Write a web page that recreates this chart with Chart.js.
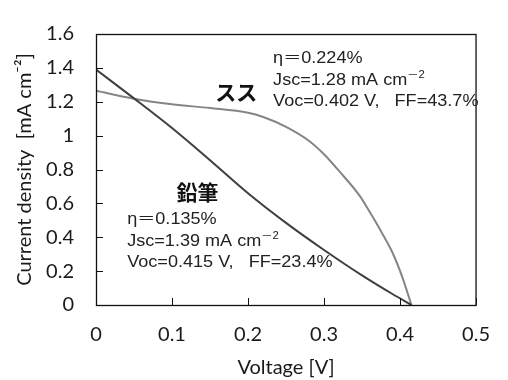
<!DOCTYPE html>
<html><head><meta charset="utf-8">
<script src="https://cdn.jsdelivr.net/npm/chart.js@4/dist/chart.umd.min.js"></script>
<style>html,body{margin:0;padding:0;background:#fff;}canvas{display:block}</style>
</head><body>
<canvas id="c" width="508" height="380"></canvas>
<script>
// ---- data ----
const sootVoltage  = [0, 0.05, 0.1, 0.15, 0.2, 0.22, 0.25, 0.28, 0.3, 0.32, 0.347, 0.36, 0.375, 0.39, 0.403, 0.415];
const sootCurrent  = [1.265, 1.218, 1.185, 1.163, 1.135, 1.11, 1.052, 0.97, 0.89, 0.79, 0.644, 0.55, 0.435, 0.31, 0.165, 0];
const pencilVoltage = [0, 0.05, 0.1, 0.15, 0.2, 0.25, 0.3, 0.35, 0.39, 0.415];
const pencilCurrent = [1.39, 1.22, 1.045, 0.855, 0.66, 0.485, 0.325, 0.175, 0.065, 0];
const xTickValues = [0, 0.1, 0.2, 0.3, 0.4, 0.5];
const xTickLabels = ['0', '0.1', '0.2', '0.3', '0.4', '0.5'];
const yTickValues = [0, 0.2, 0.4, 0.6, 0.8, 1.0, 1.2, 1.4, 1.6];
const yTickLabels = ['0', '0.2', '0.4', '0.6', '0.8', '1', '1.2', '1.4', '1.6'];
const xTitle = 'Voltage [V]';
const yTitle = 'Current density  [mA cm⁻²]';
const sootLabel = 'スス';
const pencilLabel = '鉛筆';
const sootInfo = [['η＝0.224%'], ['Jsc=1.28 mA cm', '－2'], ['Voc=0.402 V,   FF=43.7%']];
const pencilInfo = [['η＝0.135%'], ['Jsc=1.39 mA cm', '－2'], ['Voc=0.415 V,   FF=23.4%']];

// ---- anchors for labels, in data coordinates ----
const labelAnchors = {
  soot:   {v: 0.157, j: 1.26},
  pencil: {v: 0.106, j: 0.67},
  sootInfo:   {v: 0.233, j: 1.426},
  pencilInfo: {v: 0.041, j: 0.476}
};

const toPts = (xs, ys) => xs.map((x, i) => ({x, y: ys[i]}));
const tickFont = {family: 'Lato', size: 20};
const textColor = '#1a1a1a';
const infoFamily = '"Liberation Sans", "Noto Sans CJK JP", Arial, sans-serif';

const overlay = {
  id: 'overlay',
  afterDraw(chart) {
    const {ctx, chartArea: a, scales: {x, y}} = chart;
    ctx.save();
    ctx.strokeStyle = '#111';
    ctx.lineWidth = 1.3;
    ctx.strokeRect(a.left + 0.5, a.top + 0.5, a.right - a.left - 0.5, a.bottom - a.top);
    ctx.beginPath();
    x.ticks.forEach(t => { const px = Math.round(x.getPixelForValue(t.value)) + 0.5; ctx.moveTo(px, a.bottom); ctx.lineTo(px, a.bottom - 7); });
    y.ticks.forEach(t => { const py = Math.round(y.getPixelForValue(t.value)) + 0.5; ctx.moveTo(a.left, py); ctx.lineTo(a.left + 7, py); });
    ctx.lineWidth = 1;
    ctx.stroke();

    // CJK labels
    ctx.fillStyle = '#111';
    ctx.font = 'bold 21px "Noto Sans CJK JP"';
    ctx.textBaseline = 'middle';
    ctx.textAlign = 'left';
    ctx.fillText(sootLabel, x.getPixelForValue(labelAnchors.soot.v), y.getPixelForValue(labelAnchors.soot.j));
    ctx.fillText(pencilLabel, x.getPixelForValue(labelAnchors.pencil.v), y.getPixelForValue(labelAnchors.pencil.j));

    // info blocks
    const drawInfo = (lines, anchor) => {
      const x0 = x.getPixelForValue(anchor.v);
      const y0 = y.getPixelForValue(anchor.j);
      ctx.textBaseline = 'alphabetic';
      ctx.fillStyle = '#222';
      lines.forEach((segs, i) => {
        const by = y0 + i * 21.5;
        ctx.save();
        ctx.translate(x0, by);
        ctx.scale(1.13, 1);
        ctx.font = '16px ' + infoFamily;
        ctx.fillText(segs[0], 0, 0);
        if (segs[1]) {
          const w = ctx.measureText(segs[0]).width;
          ctx.font = '10px ' + infoFamily;
          ctx.fillText(segs[1], w, -7);
        }
        ctx.restore();
      });
    };
    drawInfo(sootInfo, labelAnchors.sootInfo);
    drawInfo(pencilInfo, labelAnchors.pencilInfo);
    ctx.restore();
  }
};

new Chart(document.getElementById('c'), {
  type: 'line',
  data: {
    datasets: [
      {label: pencilLabel, data: toPts(pencilVoltage, pencilCurrent), borderColor: '#3f3f3f', borderWidth: 2, pointRadius: 0, cubicInterpolationMode: 'monotone', fill: false},
      {label: sootLabel, data: toPts(sootVoltage, sootCurrent), borderColor: '#858585', borderWidth: 2, pointRadius: 0, cubicInterpolationMode: 'monotone', fill: false}
    ]
  },
  options: {
    responsive: false,
    animation: false,
    devicePixelRatio: 1,
    layout: {padding: {top: 20, right: 17, left: 0, bottom: 0}},
    plugins: {legend: {display: false}, tooltip: {enabled: false}},
    scales: {
      x: {
        type: 'linear', min: 0, max: 0.5,
        afterBuildTicks: s => { s.ticks = xTickValues.map(v => ({value: v})); },
        afterFit: s => { s.height = 75; },
        grid: {display: false, drawTicks: false},
        border: {display: false},
        ticks: {padding: 18, font: tickFont, color: textColor, maxRotation: 0, autoSkip: false,
                callback: (v, i) => xTickLabels[i]},
        title: {display: true, text: xTitle, font: tickFont, color: textColor, padding: {top: 0, bottom: 0}}
      },
      y: {
        type: 'linear', min: 0, max: 1.6,
        afterBuildTicks: s => { s.ticks = yTickValues.map(v => ({value: v})); },
        afterFit: s => { s.width = 96; },
        grid: {display: false, drawTicks: false},
        border: {display: false},
        ticks: {padding: 22, font: tickFont, color: textColor, autoSkip: false,
                callback: (v, i) => yTickLabels[i]},
        title: {display: true, text: yTitle, font: tickFont, color: textColor, padding: {top: 13, bottom: 0}}
      }
    }
  },
  plugins: [overlay]
});
</script>
</body></html>
